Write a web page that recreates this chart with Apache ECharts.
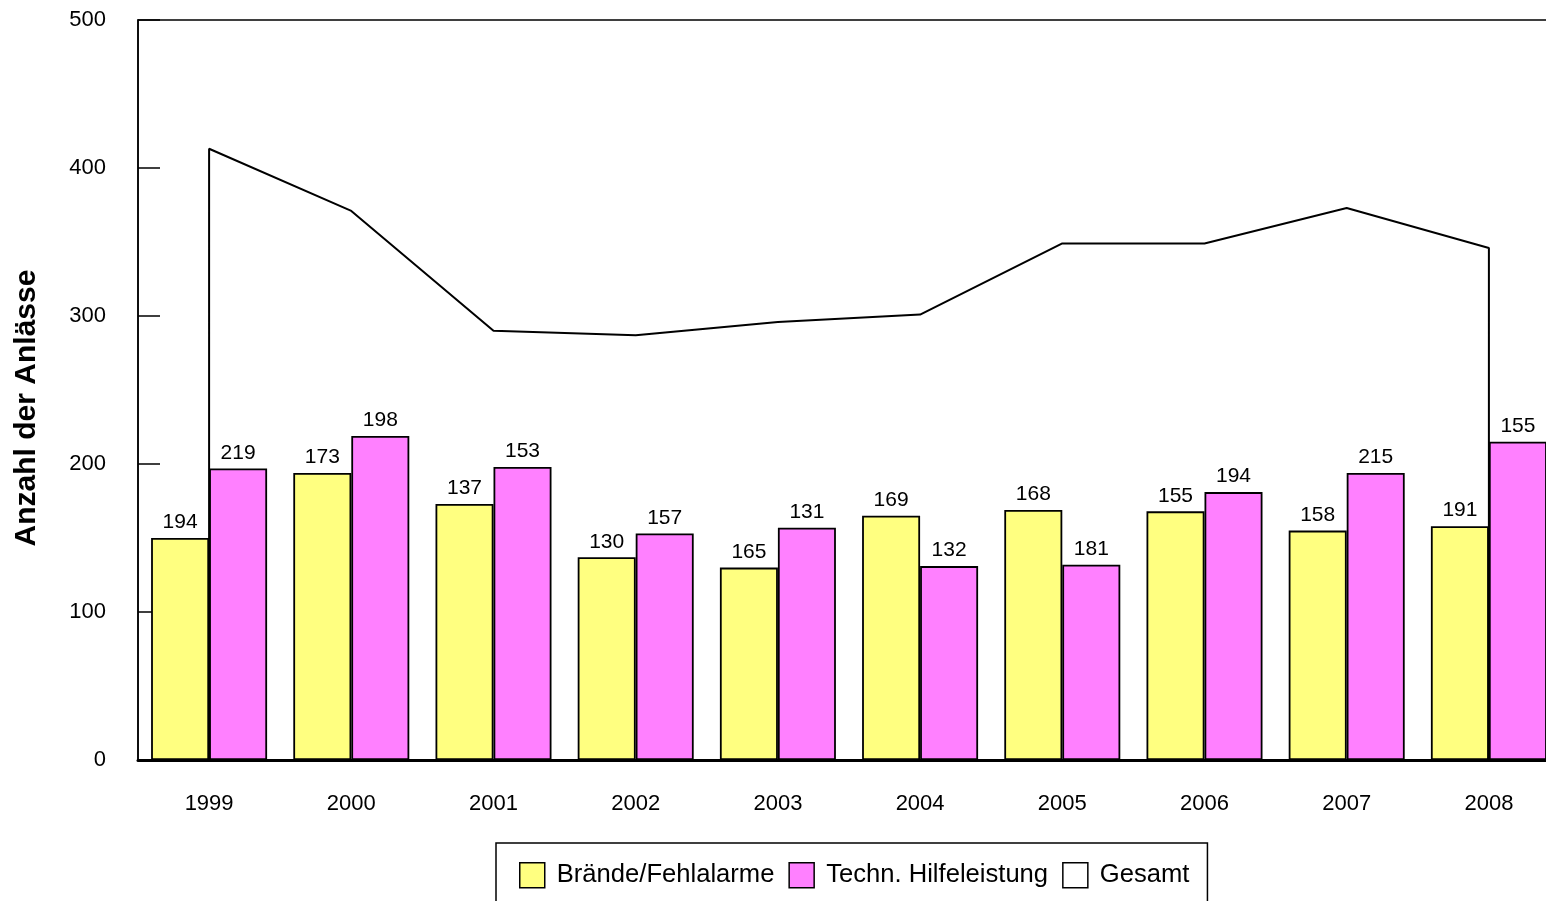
<!DOCTYPE html>
<html>
<head>
<meta charset="utf-8">
<script src="https://cdn.jsdelivr.net/npm/echarts@6/dist/echarts.min.js"></script>
<style>html,body{margin:0;padding:0;background:#fff;}#c{width:1546px;height:901px;}</style>
</head>
<body>
<div id="c"></div>
<script>
const years = ['1999','2000','2001','2002','2003','2004','2005','2006','2007','2008'];
// bar heights as drawn
const braendeBars = [150,194,173,137,130,165,169,168,155,158];
const hilfeBars = [197,219,198,153,157,131,132,181,194,215];
// label texts as printed above the bars
const braendeLabels = [194,173,137,130,165,169,168,155,158,191];
const hilfeLabels = [219,198,153,157,131,132,181,194,215,155];
const gesamt = [413,371,290,287,296,301,349,349,373,346];
const yTicks = [0,100,200,300,400,500];

const FONT = '"Liberation Sans", Arial, sans-serif';
const lineData = [[0,0]].concat(gesamt.map((v,i)=>[i,v])).concat([[gesamt.length-1,0]]);

const chart = echarts.init(document.getElementById('c'));
chart.setOption({
  animation:false,
  backgroundColor:'#fff',
  textStyle:{fontFamily:FONT,color:'#000'},
  grid:{left:138,top:20,width:1422,height:740,show:true,borderColor:'#000',borderWidth:1.5,
        backgroundColor:'transparent',outerBoundsMode:'none',containLabel:false},
  graphic:[{type:'text',x:27,y:408,rotation:Math.PI/2,
    style:{text:'Anzahl der Anlässe',font:'bold 30px "Liberation Sans", Arial, sans-serif',
      fill:'#000',align:'center',verticalAlign:'middle'}}],
  legend:{
    left:496, top:843,
    itemWidth:25,itemHeight:25,itemGap:14,
    borderColor:'#000',borderWidth:1.5,
    padding:[19,18,20,23],
    textStyle:{fontSize:25.6,fontFamily:FONT,color:'#000',padding:[0,0,0,7]},
    data:[
      {name:'Brände/Fehlalarme',icon:'rect',itemStyle:{color:'#FFFF80',borderColor:'#000',borderWidth:1.5}},
      {name:'Techn. Hilfeleistung',icon:'rect',itemStyle:{color:'#FF80FF',borderColor:'#000',borderWidth:1.5}},
      {name:'Gesamt',icon:'rect',itemStyle:{color:'#fff',borderColor:'#000',borderWidth:1.5}}
    ]
  },
  xAxis:[
    {type:'category',data:years,position:'bottom',
     axisLine:{lineStyle:{color:'#000',width:3}},axisTick:{show:false},
     axisLabel:{fontSize:22,color:'#000',margin:33,fontFamily:FONT}},
    {type:'value',min:-0.5,max:years.length-0.5,show:false}
  ],
  yAxis:{type:'value',min:yTicks[0],max:yTicks[yTicks.length-1],interval:100,
    axisLine:{show:true,onZero:false,lineStyle:{color:'#000',width:1.5}},
    axisTick:{show:true,inside:true,length:22,lineStyle:{color:'#000',width:1.5}},
    axisLabel:{fontSize:22,color:'#000',margin:32,fontFamily:FONT},
    splitLine:{show:false}},
  series:[
    {name:'Brände/Fehlalarme',type:'bar',data:braendeBars,barWidth:58,barGap:'0%',
     itemStyle:{color:'#FFFF80',borderColor:'#000',borderWidth:1.8},
     label:{show:true,position:'top',distance:5,fontSize:21,color:'#000',fontFamily:FONT,
       formatter:p=>String(braendeLabels[p.dataIndex])}},
    {name:'Techn. Hilfeleistung',type:'bar',data:hilfeBars,barWidth:58,barGap:'0%',
     itemStyle:{color:'#FF80FF',borderColor:'#000',borderWidth:1.8},
     label:{show:true,position:'top',distance:5,fontSize:21,color:'#000',fontFamily:FONT,
       formatter:p=>String(hilfeLabels[p.dataIndex])}},
    {name:'Gesamt',type:'line',xAxisIndex:1,yAxisIndex:0,data:lineData,
     symbol:'none',z:5,
     lineStyle:{color:'#000',width:2},itemStyle:{color:'#fff',borderColor:'#000'},
     label:{show:true,position:'top',distance:5,fontSize:21,color:'#000',fontFamily:FONT,
       formatter:p=>(p.dataIndex===0||p.dataIndex===lineData.length-1)?'':String(p.value[1])}}
  ]
});
</script>
</body>
</html>
